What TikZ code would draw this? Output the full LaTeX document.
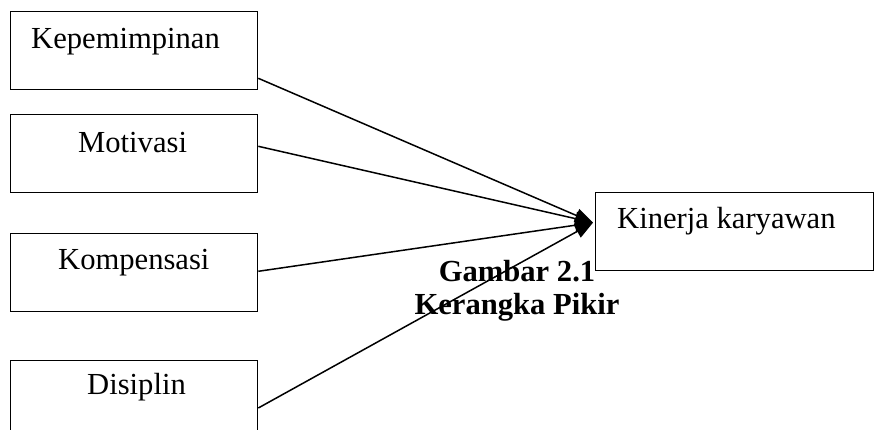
\documentclass[tikz,border=0pt]{standalone}
\usepackage{fontspec}
\setmainfont{Liberation Serif}
\usetikzlibrary{arrows.meta}
\begin{document}
\begin{tikzpicture}[x=1pt,y=-1pt,
  box/.style={draw,line width=1.3pt,rectangle,minimum width=247pt,minimum height=78pt,inner sep=0pt,anchor=north west},
  lbl/.style={anchor=base west,inner sep=0pt,font=\fontsize{30.6}{33}\selectfont},
  conn/.style={line width=1.5pt,-{Triangle[length=18pt,width=14pt]}}]
\useasboundingbox (0,0) rectangle (876,430);
\node[box] (kep) at (10,11) {};
\node[box] (mot) at (10,114) {};
\node[box] (kom) at (10,233) {};
\node[box] (dis) at (10,360) {};
\node[box,minimum width=278pt] (kin) at (595,192) {};
\node[lbl] (tkep) at (31,49) {Kepemimpinan};
\node[lbl] (tmot) at (78,153) {Motivasi};
\node[lbl] (tkom) at (58,270) {Kompensasi};
\node[lbl] (tdis) at (87,395) {Disiplin};
\node[lbl] (tkin) at (617,229) {Kinerja karyawan};
\node[anchor=base,inner sep=0pt,align=center,font=\fontsize{30.6}{33}\selectfont\bfseries] (cap) at (517,315) {Gambar 2.1\\Kerangka Pikir};
\coordinate (tip) at ([yshift=9pt,xshift=-2pt]kin.west);
\draw[conn] ([yshift=12pt]kep.south east) -- (tip);
\draw[conn] ([yshift=47pt]mot.south east) -- (tip);
\draw[conn] ([yshift=41pt]kom.south east) -- (tip);
\draw[conn] ([yshift=-48pt]dis.north east) -- (tip);
\end{tikzpicture}
\end{document}
